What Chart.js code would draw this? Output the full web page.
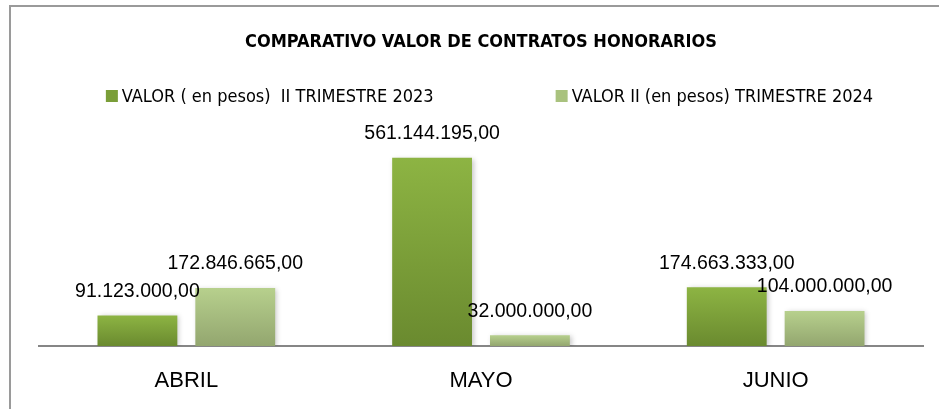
<!DOCTYPE html>
<html>
<head>
<meta charset="utf-8">
<script src="https://cdn.jsdelivr.net/npm/chart.js@4"></script>
<style>
  html, body { margin: 0; padding: 0; background: #fff; }
  #wrap { width: 939px; height: 409px; position: relative; }
</style>
</head>
<body>
<div id="wrap"><canvas id="chart" width="939" height="409"></canvas></div>
<script>
const months = ['ABRIL', 'MAYO', 'JUNIO'];
const valores2023 = [91123000, 561144195, 174663333];
const valores2024 = [172846665, 32000000, 104000000];
const seriesNames = ['VALOR ( en pesos)  II TRIMESTRE 2023', 'VALOR II (en pesos) TRIMESTRE 2024'];
const legendFills = ['#7a9e38', '#a9c27e'];
const yMax = 600000000;

const narrow = '"DejaVu Sans Condensed", "Liberation Sans Narrow", sans-serif';
const sans = '"Liberation Sans", Arial, sans-serif';

const fmt = (v) => v.toLocaleString('de-DE', { minimumFractionDigits: 2, maximumFractionDigits: 2 });

// vertical gradient per bar, like the office chart fill
const barFill = (top, bottom) => (ctx) => {
    const chart = ctx.chart;
    if (!chart.chartArea || ctx.raw === undefined) return top;
    const y = chart.scales.y;
    const y0 = y.getPixelForValue(ctx.raw);
    const y1 = y.getPixelForValue(0);
    const g = chart.ctx.createLinearGradient(0, y0, 0, y1);
    g.addColorStop(0, top);
    g.addColorStop(1, bottom);
    return g;
};

const frame = {
    id: 'frame',
    beforeDraw(chart) {
        const c = chart.ctx;
        c.save();
        c.strokeStyle = '#9a9a9a';
        c.lineWidth = 2;
        c.beginPath();
        c.moveTo(10, chart.height);
        c.lineTo(10, 6);
        c.lineTo(chart.width, 6);
        c.stroke();
        c.restore();
    }
};

// legend row: the built-in one ties item gap to row height, so drawn here
const legendRow = {
    id: 'legendRow',
    afterDraw(chart) {
        const c = chart.ctx;
        const box = 12, gapText = 4, gapItems = 122, y = 96;
        c.save();
        c.font = '18px ' + narrow;
        c.textBaseline = 'middle';
        const widths = chart.data.datasets.map(ds => box + gapText + c.measureText(ds.label).width);
        const total = widths.reduce((a, b) => a + b, 0) + gapItems * (widths.length - 1);
        let x = (chart.width - total) / 2 + 20;
        chart.data.datasets.forEach((ds, i) => {
            c.fillStyle = legendFills[i];
            c.fillRect(x, y - box / 2, box, box);
            c.fillStyle = '#000';
            c.fillText(ds.label, x + box + gapText, y + 1);
            x += widths[i] + gapItems;
        });
        c.restore();
    }
};

const shadow = {
    id: 'shadow',
    beforeDatasetDraw(chart) {
        const c = chart.ctx;
        c.save();
        c.shadowColor = 'rgba(0,0,0,0.22)';
        c.shadowBlur = 5;
        c.shadowOffsetX = 2;
        c.shadowOffsetY = 1;
    },
    afterDatasetDraw(chart) {
        chart.ctx.restore();
    }
};

const valueLabels = {
    id: 'valueLabels',
    afterDatasetsDraw(chart) {
        const c = chart.ctx;
        c.save();
        c.font = '19.5px ' + sans;
        c.fillStyle = '#000';
        c.textAlign = 'center';
        c.textBaseline = 'middle';
        chart.data.datasets.forEach((ds, i) => {
            chart.getDatasetMeta(i).data.forEach((bar, j) => {
                c.fillText(fmt(ds.data[j]), bar.x, bar.y - 24);
            });
        });
        c.restore();
    }
};

new Chart(document.getElementById('chart'), {
    type: 'bar',
    data: {
        labels: months,
        datasets: [
            {
                label: seriesNames[0],
                data: valores2023,
                backgroundColor: barFill('#8db443', '#6a8a2f')
            },
            {
                label: seriesNames[1],
                data: valores2024,
                backgroundColor: barFill('#b7d08d', '#93a66f')
            }
        ]
    },
    options: {
        responsive: false,
        animation: false,
        categoryPercentage: 0.664,
        barPercentage: 0.816,
        layout: { padding: { top: 0, left: 39, right: 16, bottom: 0 } },
        plugins: {
            title: {
                display: true,
                text: 'COMPARATIVO VALOR DE CONTRATOS HONORARIOS',
                color: '#000',
                font: { family: narrow, size: 18, weight: 'bold', lineHeight: 1.2 },
                padding: { top: 32, bottom: 91 }
            },
            legend: { display: false },
            tooltip: { enabled: false }
        },
        scales: {
            x: {
                grid: { display: false, drawTicks: false },
                border: { display: true, color: '#868686', width: 2 },
                ticks: { color: '#000', font: { family: sans, size: 22 }, padding: 22 },
                afterFit(scale) { scale.height = 63; }
            },
            y: {
                display: false,
                min: 0,
                max: yMax
            }
        }
    },
    plugins: [frame, shadow, valueLabels, legendRow]
});
</script>
</body>
</html>
